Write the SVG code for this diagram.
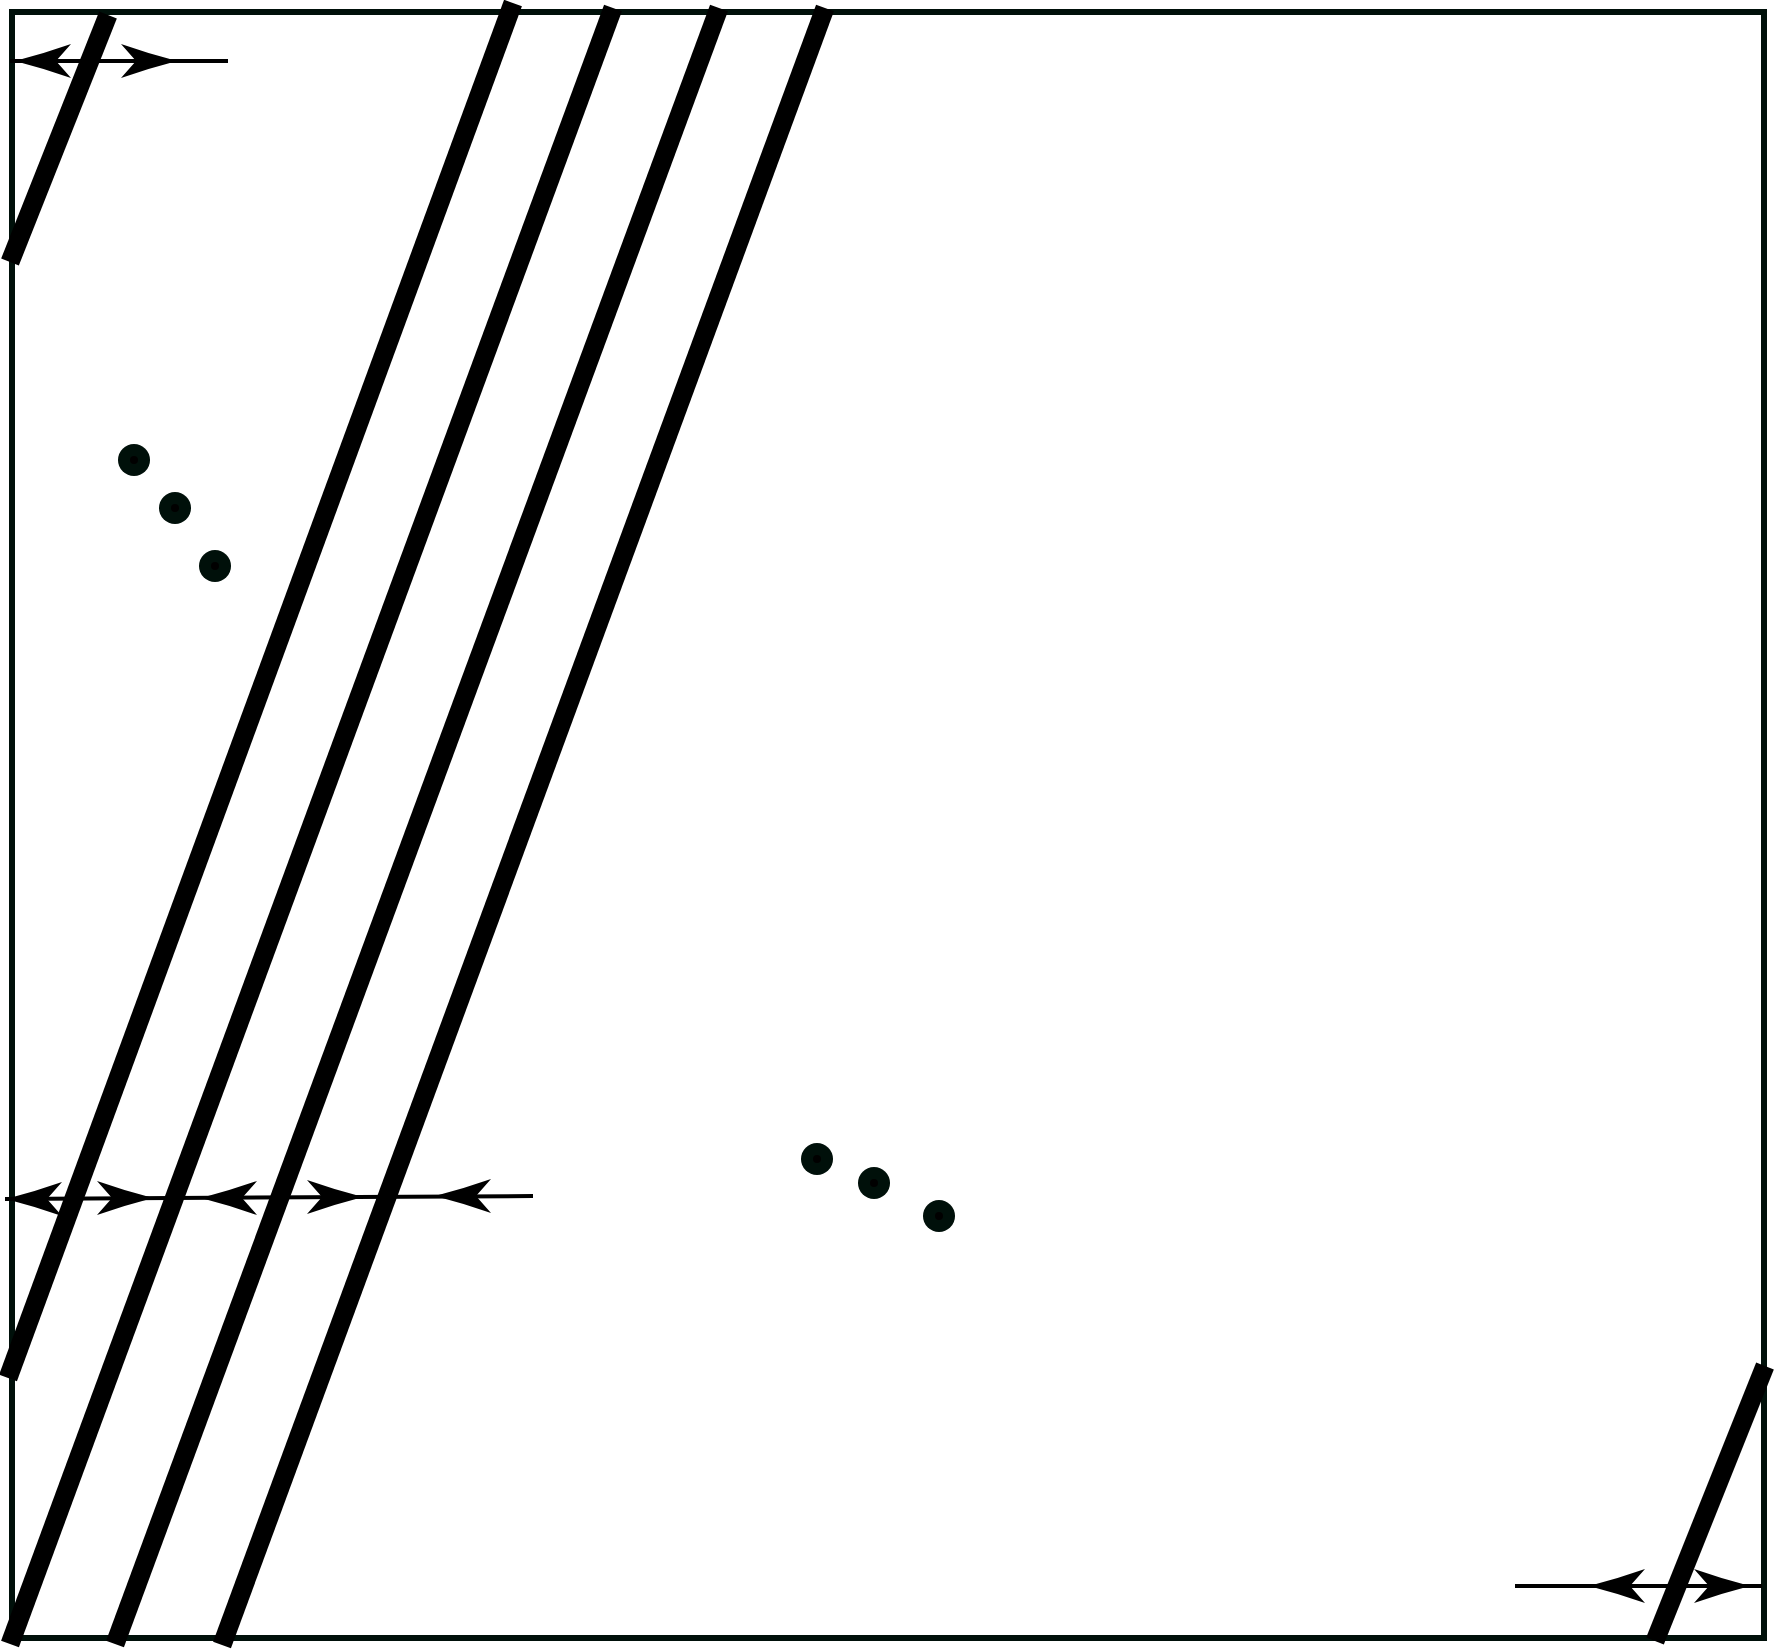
<svg xmlns="http://www.w3.org/2000/svg" xmlns:xlink="http://www.w3.org/1999/xlink" width="1775" height="1650" viewBox="0 0 1775 1650">
<style>
.frame{fill:none;stroke:#00100a;stroke-width:6}
.bar{stroke:#000;stroke-width:19;stroke-linecap:butt;fill:none}
.thin{stroke:#000;stroke-width:4;fill:none}
.dot{fill:#00100a}
.dotc{fill:#000}
.ah{fill:#000}
</style>
<defs>
<path id="ah" class="ah" d="M0,0 Q-29,-7.5 -56,-17 L-41,0 L-56,17 Q-29,7.5 0,0 Z"/>
</defs>
<rect id="frame" class="frame" x="12" y="12" width="1752" height="1626"/>
<g id="bars">
<line class="bar" x1="108" y1="15" x2="10" y2="262"/>
<line class="bar" x1="513" y1="3" x2="8" y2="1378"/>
<line class="bar" x1="613" y1="8" x2="10" y2="1644"/>
<line class="bar" x1="719" y1="8" x2="115" y2="1644"/>
<line class="bar" x1="825" y1="8" x2="222" y2="1645"/>
<line class="bar" x1="1765" y1="1366" x2="1655" y2="1641"/>
</g>
<g id="connectors">
<line class="thin" x1="10" y1="61" x2="228" y2="61"/>
<use xlink:href="#ah" href="#ah" transform="translate(15,61) rotate(180)"/>
<use xlink:href="#ah" href="#ah" transform="translate(177,61)"/>
<line class="thin" x1="5" y1="1199" x2="533" y2="1196"/>
<use xlink:href="#ah" href="#ah" transform="translate(6,1199) rotate(180)"/>
<use xlink:href="#ah" href="#ah" transform="translate(153,1198)"/>
<use xlink:href="#ah" href="#ah" transform="translate(201,1198) rotate(180)"/>
<use xlink:href="#ah" href="#ah" transform="translate(363,1197)"/>
<use xlink:href="#ah" href="#ah" transform="translate(435,1196) rotate(180)"/>
<line class="thin" x1="1515" y1="1586" x2="1762" y2="1586"/>
<use xlink:href="#ah" href="#ah" transform="translate(1589,1586) rotate(180)"/>
<use xlink:href="#ah" href="#ah" transform="translate(1750,1586)"/>
</g>
<g id="dots-upper">
<circle class="dot" cx="134" cy="460" r="16"/><circle class="dotc" cx="134" cy="460" r="4"/>
<circle class="dot" cx="175" cy="508" r="16"/><circle class="dotc" cx="175" cy="508" r="4"/>
<circle class="dot" cx="215" cy="566" r="16"/><circle class="dotc" cx="215" cy="566" r="4"/>
</g>
<g id="dots-lower">
<circle class="dot" cx="817" cy="1159" r="16"/><circle class="dotc" cx="817" cy="1159" r="4"/>
<circle class="dot" cx="874" cy="1183" r="16"/><circle class="dotc" cx="874" cy="1183" r="4"/>
<circle class="dot" cx="939" cy="1216" r="16"/><circle class="dotc" cx="939" cy="1216" r="4"/>
</g>
</svg>
